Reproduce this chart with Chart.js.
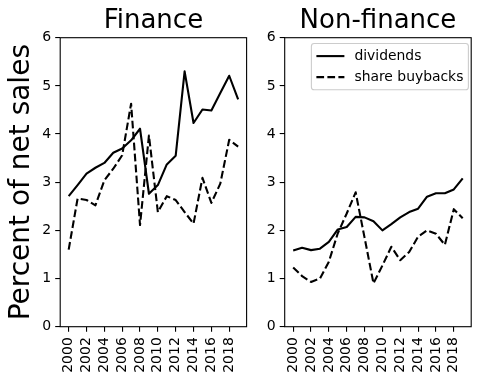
<!DOCTYPE html>
<html>
<head>
<meta charset="utf-8">
<script src="https://cdn.jsdelivr.net/npm/chart.js@4/dist/chart.umd.min.js"></script>
<style>
  html, body { margin: 0; padding: 0; background: #ffffff; }
  #wrap { position: relative; width: 481px; height: 387px; overflow: hidden; background: #fff; }
  #c1 { position: absolute; left: 0; top: 0; }
  #c2 { position: absolute; left: 250px; top: 0; }
</style>
</head>
<body>
<div id="wrap">
  <canvas id="c1" width="250" height="387"></canvas>
  <canvas id="c2" width="231" height="387"></canvas>
</div>
<script>
// ---------- data ----------
const years = [2000, 2001, 2002, 2003, 2004, 2005, 2006, 2007, 2008, 2009,
               2010, 2011, 2012, 2013, 2014, 2015, 2016, 2017, 2018, 2019];
const xTickYears = [2000, 2002, 2004, 2006, 2008, 2010, 2012, 2014, 2016, 2018];
const yTickValues = [0, 1, 2, 3, 4, 5, 6];
const panelTitles = ['Finance', 'Non-finance'];
const yAxisLabel = 'Percent of net sales';
const seriesLabels = ['dividends', 'share buybacks'];

const financeDividends = [2.71, 2.94, 3.18, 3.30, 3.40, 3.61, 3.70, 3.87, 4.11, 2.76,
                          2.94, 3.37, 3.55, 5.30, 4.23, 4.51, 4.49, 4.85, 5.21, 4.72];
const financeBuybacks  = [1.60, 2.66, 2.63, 2.52, 3.04, 3.28, 3.56, 4.63, 2.11, 3.97,
                          2.38, 2.71, 2.63, 2.38, 2.14, 3.09, 2.57, 2.97, 3.88, 3.74];
const nonFinanceDividends = [1.58, 1.64, 1.59, 1.62, 1.76, 2.02, 2.07, 2.28, 2.27, 2.19,
                             2.00, 2.13, 2.27, 2.38, 2.45, 2.70, 2.77, 2.77, 2.85, 3.08];
const nonFinanceBuybacks  = [1.23, 1.05, 0.93, 1.00, 1.35, 1.94, 2.35, 2.79, 1.85, 0.90,
                             1.27, 1.66, 1.38, 1.55, 1.87, 2.00, 1.93, 1.70, 2.44, 2.25];

// ---------- styling ----------
const FONT = '"DejaVu Sans", "Liberation Sans", sans-serif';
Chart.defaults.font.family = FONT;
Chart.defaults.color = '#000000';

const LINE_W = 2.1;
const DASH = [7.7, 3.3];
const span = years[years.length - 1] - years[0];
const xMin = years[0] - 0.05 * span;
const xMax = years[years.length - 1] + 0.05 * span;

function toPoints(vals) {
  return years.map((y, i) => ({ x: y, y: vals[i] }));
}

const framePlugin = {
  id: 'frame',
  afterDatasetsDraw(chart) {
    const a = chart.chartArea;
    const ctx = chart.ctx;
    ctx.save();
    ctx.strokeStyle = '#000000';
    ctx.lineWidth = 1.1;
    ctx.strokeRect(a.left, a.top, a.right - a.left, a.bottom - a.top);
    ctx.restore();
  }
};

const legendBoxPlugin = {
  id: 'legendBox',
  afterDraw(chart, args, opts) {
    if (!opts || !opts.show) return;
    const ctx = chart.ctx;
    const a = chart.chartArea;
    const fs = 13.9;
    const pad = 5, handle = 28, gap = 10, rowGap = 21, textH = 14, labelSpacing = 7;
    const ds = chart.data.datasets;
    ctx.save();
    ctx.font = fs + 'px ' + FONT;
    const tw = Math.max(...ds.map(d => ctx.measureText(d.label).width));
    const w = pad * 2 + handle + gap + tw;
    const h = 5.6 * 2 + textH * ds.length + labelSpacing * (ds.length - 1);
    const right = a.right - 2.8;
    const left = right - w;
    const top = a.top + 5.8;
    const r = 2.8;
    ctx.beginPath();
    ctx.moveTo(left + r, top);
    ctx.lineTo(right - r, top);
    ctx.arcTo(right, top, right, top + r, r);
    ctx.lineTo(right, top + h - r);
    ctx.arcTo(right, top + h, right - r, top + h, r);
    ctx.lineTo(left + r, top + h);
    ctx.arcTo(left, top + h, left, top + h - r, r);
    ctx.lineTo(left, top + r);
    ctx.arcTo(left, top, left + r, top, r);
    ctx.closePath();
    ctx.fillStyle = 'rgba(255,255,255,0.8)';
    ctx.fill();
    ctx.strokeStyle = '#cccccc';
    ctx.lineWidth = 1.1;
    ctx.stroke();
    ds.forEach((d, i) => {
      const cy = top + 5.6 + textH / 2 + i * rowGap;
      const x0 = left + pad;
      ctx.beginPath();
      ctx.setLineDash(d.borderDash || []);
      ctx.lineDashOffset = 0;
      ctx.strokeStyle = d.borderColor;
      ctx.lineWidth = d.borderWidth;
      ctx.lineCap = 'butt';
      ctx.moveTo(x0, cy);
      ctx.lineTo(x0 + handle, cy);
      ctx.stroke();
      ctx.setLineDash([]);
      ctx.fillStyle = '#000000';
      ctx.textAlign = 'left';
      ctx.textBaseline = 'middle';
      ctx.fillText(d.label, x0 + handle + gap, cy + 0.5);
    });
    ctx.restore();
  }
};

function makePanel(canvasId, title, divVals, buyVals, cfg) {
  return new Chart(document.getElementById(canvasId), {
    type: 'line',
    data: {
      datasets: [
        {
          label: seriesLabels[0],
          data: toPoints(divVals),
          borderColor: '#000000',
          backgroundColor: '#000000',
          borderWidth: LINE_W,
          borderJoinStyle: 'round',
          pointRadius: 0,
          tension: 0,
          fill: false
        },
        {
          label: seriesLabels[1],
          data: toPoints(buyVals),
          borderColor: '#000000',
          backgroundColor: '#000000',
          borderWidth: LINE_W,
          borderDash: DASH,
          borderJoinStyle: 'round',
          pointRadius: 0,
          tension: 0,
          fill: false
        }
      ]
    },
    options: {
      responsive: false,
      animation: false,
      devicePixelRatio: 1,
      layout: { padding: { left: 0, right: cfg.padRight, top: 0, bottom: 0 } },
      plugins: {
        legend: { display: false },
        tooltip: { enabled: false },
        title: {
          display: true,
          text: title,
          fullSize: false,
          color: '#000000',
          font: { size: 26, weight: 'normal', family: FONT, lineHeight: 1.2 },
          padding: { top: 5.7, bottom: 0.8 }
        },
        legendBox: { show: cfg.legend }
      },
      scales: {
        x: {
          type: 'linear',
          min: xMin,
          max: xMax,
          afterBuildTicks(axis) {
            axis.ticks = xTickYears.map(v => ({ value: v }));
          },
          afterFit(axis) {
            axis.height = 60.3;
            axis.paddingLeft = 0;
            axis.paddingRight = 0;
          },
          border: { display: false },
          grid: {
            display: true,
            drawOnChartArea: false,
            drawTicks: true,
            tickLength: 5,
            color: '#000000',
            lineWidth: 1.1
          },
          ticks: {
            autoSkip: false,
            minRotation: 90,
            maxRotation: 90,
            padding: 5.5,
            color: '#000000',
            font: { size: 14, family: FONT },
            callback: v => String(v)
          }
        },
        y: {
          type: 'linear',
          min: yTickValues[0],
          max: yTickValues[yTickValues.length - 1],
          afterBuildTicks(axis) {
            axis.ticks = yTickValues.map(v => ({ value: v }));
          },
          afterFit(axis) {
            axis.width = cfg.yWidth;
            axis.paddingTop = 0;
            axis.paddingBottom = 0;
          },
          border: { display: false },
          grid: {
            display: true,
            drawOnChartArea: false,
            drawTicks: true,
            tickLength: 5,
            color: '#000000',
            lineWidth: 1.1
          },
          ticks: {
            padding: 4,
            color: '#000000',
            font: { size: 14, family: FONT },
            callback: v => String(v)
          },
          title: {
            display: cfg.yTitle,
            text: yAxisLabel,
            color: '#000000',
            font: { size: 28, family: FONT, weight: 'normal', lineHeight: 1.2 },
            padding: { top: 5.2, bottom: 0 }
          }
        }
      }
    },
    plugins: [framePlugin, legendBoxPlugin]
  });
}

makePanel('c1', panelTitles[0], financeDividends, financeBuybacks,
          { yWidth: 60.2, padRight: 3.4, yTitle: true, legend: false });
makePanel('c2', panelTitles[1], nonFinanceDividends, nonFinanceBuybacks,
          { yWidth: 34.7, padRight: 9.8, yTitle: false, legend: true });
</script>
</body>
</html>
